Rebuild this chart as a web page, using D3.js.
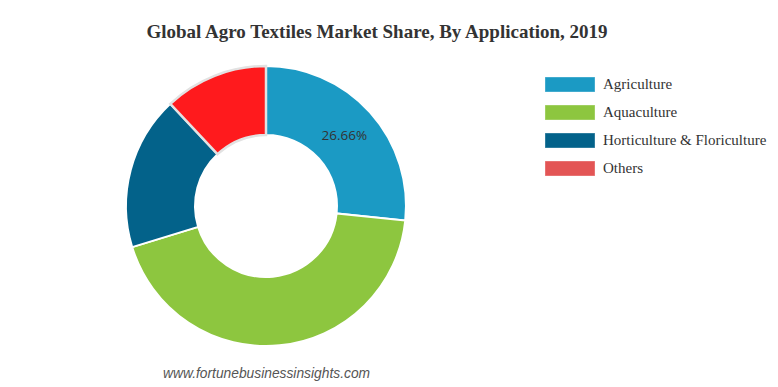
<!DOCTYPE html>
<html>
<head>
<meta charset="utf-8">
<script src="https://cdn.jsdelivr.net/npm/d3@7"></script>
<style>
  body { margin: 0; background: #fff; }
</style>
</head>
<body>
<div id="chart"></div>
<script>
// Data
const categories = ["Agriculture", "Aquaculture", "Horticulture & Floriculture", "Others"]
const shares = [26.66, 43.60, 17.76, 11.98]
const sliceColors = ["#1b9ac4", "#8dc63f", "#03628a", "#ff1a1d"]
const legendColors = ["#1b9ac4", "#8dc63f", "#03628a", "#e35555"]
const shownLabels = ["Agriculture"]

const width = 778
const height = 387
const cx = 266, cy = 206
const outerR = 140, innerR = 71

let svg = d3.select("#chart")
    .append("svg")
    .attr("width", width)
    .attr("height", height)

// Title
svg.append("text")
    .attr("x", 377)
    .attr("y", 38)
    .attr("text-anchor", "middle")
    .style("font-family", "'Liberation Serif', 'Times New Roman', serif")
    .style("font-weight", "bold")
    .style("font-size", "19px")
    .style("fill", "#333")
    .text("Global Agro Textiles Market Share, By Application, 2019")

const data = categories.map((c, i) => ({ name: c, value: shares[i], i: i }))

const pie = d3.pie().sort(null).value(d => d.value)
const arc = d3.arc().innerRadius(innerR).outerRadius(outerR)
const labelArc = d3.arc().innerRadius((innerR + outerR) / 2).outerRadius((innerR + outerR) / 2)

let donut = svg.append("g")
    .attr("transform", `translate(${cx},${cy})`)

const arcs = pie(data)

donut.selectAll("path.slice")
    .data(arcs)
    .enter()
    .append("path")
    .attr("class", "slice")
    .attr("d", arc)
    .style("fill", d => sliceColors[d.data.i])
    .style("stroke", d => d.data.name === "Others" ? "#e2e2e2" : "#fff")
    .style("stroke-width", d => d.data.name === "Others" ? 2.5 : 2)

// Slice labels
donut.selectAll("text.label")
    .data(arcs.filter(d => shownLabels.includes(d.data.name)))
    .enter()
    .append("text")
    .attr("class", "label")
    .attr("transform", d => `translate(${labelArc.centroid(d)})`)
    .attr("text-anchor", "middle")
    .attr("dy", "0.35em")
    .style("font-family", "'Open Sans', 'DejaVu Sans', sans-serif")
    .style("font-size", "13.5px")
    .style("fill", "#333")
    .text(d => d.data.value.toFixed(2) + "%")

// Legend
let legend = svg.append("g")
    .attr("transform", "translate(545,77)")

let items = legend.selectAll("g.item")
    .data(categories)
    .enter()
    .append("g")
    .attr("class", "item")
    .attr("transform", (d, i) => `translate(0,${i * 28})`)

items.append("rect")
    .attr("width", 50)
    .attr("height", 15)
    .style("fill", (d, i) => legendColors[i])
    .style("stroke", "rgba(255,255,255,0.35)")
    .style("stroke-width", 1)

items.append("text")
    .attr("x", 58)
    .attr("y", 12)
    .style("font-family", "'Liberation Serif', 'Times New Roman', serif")
    .style("font-size", "15px")
    .style("fill", "#333")
    .text(d => d)

// Source
svg.append("text")
    .attr("x", 163)
    .attr("y", 378)
    .style("font-family", "'Liberation Sans', Arial, sans-serif")
    .style("font-style", "italic")
    .style("font-size", "13.8px")
    .style("fill", "#555")
    .text("www.fortunebusinessinsights.com")
</script>
</body>
</html>
